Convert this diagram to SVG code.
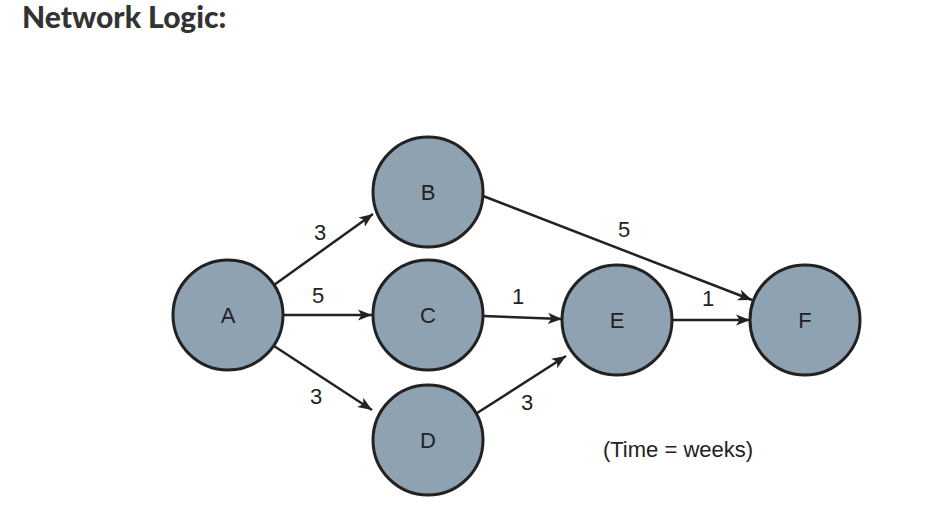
<svg xmlns="http://www.w3.org/2000/svg" width="930" height="516" viewBox="0 0 930 516">
<defs>
<marker id="ah" viewBox="0 0 10 10" refX="10" refY="5" markerWidth="18" markerHeight="14" markerUnits="userSpaceOnUse" orient="auto"><path d="M0,1 L10,5 L0,9 L2.5,5 z" fill="#222"/></marker>
<style>
.n{fill:#8fa2b2;stroke:#222;stroke-width:3}
.t{font-family:"Liberation Sans",Arial,sans-serif;font-size:22px;fill:#222;text-anchor:middle}
.e{stroke:#222;stroke-width:2.5;fill:none;marker-end:url(#ah)}
</style>
</defs>
<rect width="930" height="516" fill="#fff"/>
<text x="22" y="28" font-family="Lato,'Liberation Sans',sans-serif" font-weight="900" font-size="30" fill="#333">Network Logic:</text>
<g id="connectors">
<line class="e" x1="274" y1="285" x2="373" y2="214"/>
<line class="e" x1="284" y1="315" x2="372" y2="315"/>
<line class="e" x1="274" y1="346" x2="372" y2="410"/>
<line class="e" x1="483" y1="196" x2="752" y2="300"/>
<line class="e" x1="483" y1="316" x2="562" y2="319"/>
<line class="e" x1="474" y1="415" x2="566" y2="356"/>
<line class="e" x1="673" y1="320" x2="750" y2="320"/>
<text class="t" x="320" y="240">3</text>
<text class="t" x="318" y="303">5</text>
<text class="t" x="316" y="404">3</text>
<text class="t" x="624" y="237">5</text>
<text class="t" x="518" y="304">1</text>
<text class="t" x="527" y="410">3</text>
<text class="t" x="708" y="306">1</text>
</g>
<g id="A"><circle class="n" cx="228" cy="315" r="55"/><text class="t" x="228" y="323">A</text></g>
<g id="B"><circle class="n" cx="428" cy="192" r="55"/><text class="t" x="428" y="200">B</text></g>
<g id="C"><circle class="n" cx="428" cy="315" r="55"/><text class="t" x="428" y="323">C</text></g>
<g id="D"><circle class="n" cx="428" cy="440" r="55"/><text class="t" x="428" y="448">D</text></g>
<g id="E"><circle class="n" cx="617" cy="320" r="55"/><text class="t" x="617" y="328">E</text></g>
<g id="F"><circle class="n" cx="805" cy="320" r="55"/><text class="t" x="805" y="328">F</text></g>
<text class="t" x="678" y="457" font-size="27">(Time = weeks)</text>
</svg>
